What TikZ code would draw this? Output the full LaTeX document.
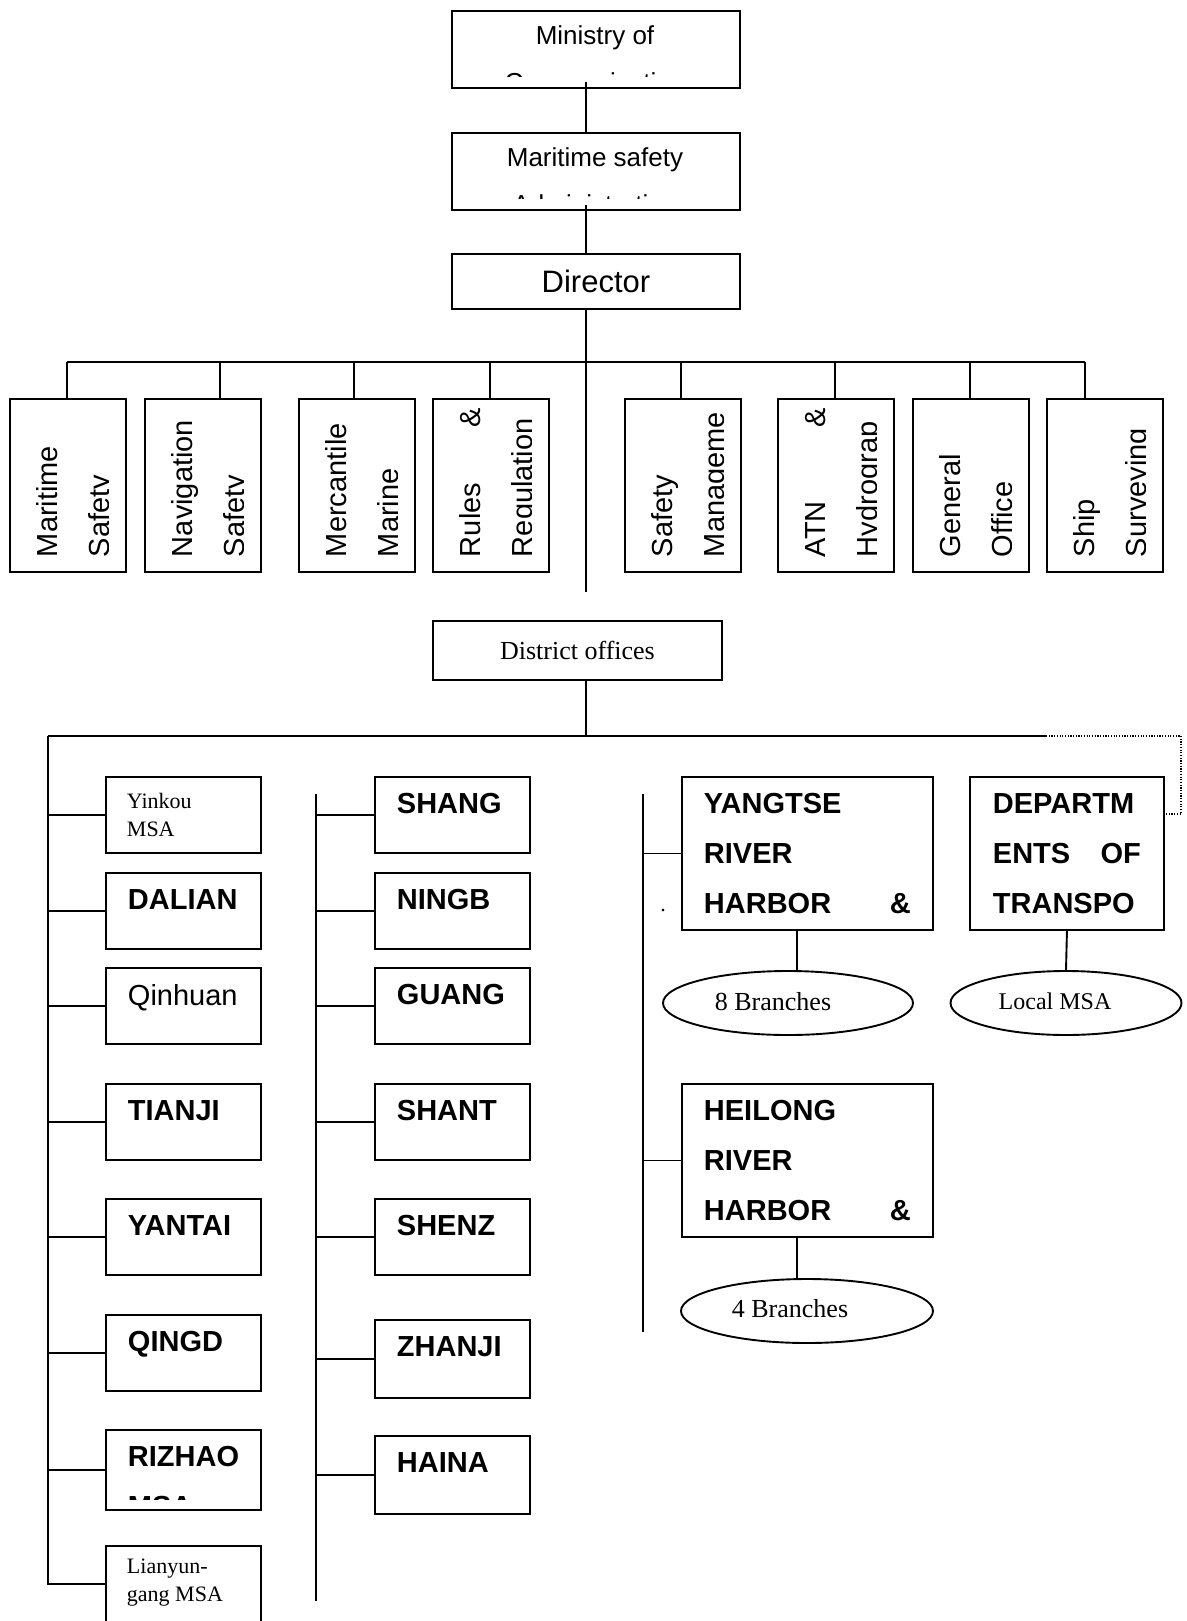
\documentclass[tikz,border=0pt]{standalone}
\usepackage{fontspec}
\setmainfont{Liberation Sans}
\newfontfamily\timesfont{Liberation Serif}
\usetikzlibrary{shapes.geometric}

\tikzset{
  orgbox/.style={draw, anchor=north west, inner sep=0pt},
  deptbox/.style={draw, anchor=north west, inner sep=0pt, minimum width=116pt, minimum height=173pt},
  deptlbl/.style={rotate=90, anchor=base west, inner sep=0pt, font=\fontsize{29}{35}\selectfont},
  msabox/.style={draw, anchor=north west, inner sep=0pt, minimum width=155pt, minimum height=76pt},
  msalbl/.style={anchor=base west, inner sep=0pt, font=\bfseries\fontsize{29}{50}\selectfont},
  seriflbl/.style={anchor=base west, inner sep=0pt, font=\timesfont\fontsize{22}{28}\selectfont},
  branch/.style={draw, ellipse, inner sep=0pt, minimum width=250pt, minimum height=64pt},
}

\begin{document}
\begin{tikzpicture}[x=1pt, y=-1pt, line width=1.9pt]
    \useasboundingbox (0,0) rectangle (1186,1621);

    %top boxes
    \node[orgbox, minimum width=288pt, minimum height=77pt] (ministry) at (451,10) {};
    \node[anchor=base, font=\fontsize{26}{30}\selectfont] (ministrytxt) at (595,45) {Ministry of};
    \begin{scope}
        \clip (451,10) rectangle (739,77);
        \node[anchor=base, font=\fontsize{26}{30}\selectfont] (ministrycut) at (595,92) {Communication};
    \end{scope}
    \node[orgbox, minimum width=288pt, minimum height=77pt] (maritime) at (451,132) {};
    \node[anchor=base, font=\fontsize{26}{30}\selectfont] (maritimetxt) at (595,167) {Maritime safety};
    \begin{scope}
        \clip (451,132) rectangle (739,199);
        \node[anchor=base, font=\fontsize{26}{30}\selectfont] (maritimecut) at (595,214) {Administration};
    \end{scope}
    \node[orgbox, minimum width=288pt, minimum height=55pt, font=\fontsize{31}{36}\selectfont] (director) at (451,253) {Director};

    %spine
    \coordinate (spine) at (586,0);
    \coordinate (spineend) at (586,592);
    \draw (spine |- ministry.south) ++(0,-7) -- (spine |- maritime.north);
    \draw (spine |- maritime.south) ++(0,-6) -- (spine |- director.north);
    \draw (spine |- director.south) -- (spineend);

    %departments
    \node[deptbox] (d1) at (9,398) {};
    \node[deptbox] (d2) at (144,398) {};
    \node[deptbox] (d3) at (298,398) {};
    \node[deptbox] (d4) at (432,398) {};
    \node[deptbox] (d5) at (624,398) {};
    \node[deptbox] (d6) at (777,398) {};
    \node[deptbox] (d7) at (912,398) {};
    \node[deptbox] (d8) at (1046,398) {};

    \begin{scope}
        \clip (9,398) rectangle (108.5,571);
        \node[deptlbl] (d1a) at (57,558) {Maritime};
        \node[deptlbl] (d1b) at (109,558) {Safety};
    \end{scope}
    \begin{scope}
        \clip (144,398) rectangle (243.5,571);
        \node[deptlbl] (d2a) at (192,558) {Navigation};
        \node[deptlbl] (d2b) at (244,558) {Safety};
    \end{scope}
    \begin{scope}
        \clip (298,398) rectangle (397.5,571);
        \node[deptlbl] (d3a) at (346,558) {Mercantile};
        \node[deptlbl] (d3b) at (398,558) {Marine};
    \end{scope}
    \begin{scope}
        \clip (432,398) rectangle (531.5,571);
        \node[deptlbl] (d4a) at (480,558) {\hbox to 149pt{Rules\hfill\&}};
        \node[deptlbl] (d4b) at (532,558) {Regulation};
    \end{scope}
    \begin{scope}
        \clip (624,398) rectangle (723.5,571);
        \node[deptlbl] (d5a) at (672,558) {Safety};
        \node[deptlbl] (d5b) at (724,558) {Manageme};
    \end{scope}
    \begin{scope}
        \clip (777,398) rectangle (876.5,571);
        \node[deptlbl] (d6a) at (825,558) {\hbox to 149pt{ATN\hfill\&}};
        \node[deptlbl] (d6b) at (877,558) {Hydrograp};
    \end{scope}
    \begin{scope}
        \clip (912,398) rectangle (1011.5,571);
        \node[deptlbl] (d7a) at (960,558) {General};
        \node[deptlbl] (d7b) at (1012,558) {Office};
    \end{scope}
    \begin{scope}
        \clip (1046,398) rectangle (1145.5,571);
        \node[deptlbl] (d8a) at (1094,558) {Ship};
        \node[deptlbl] (d8b) at (1146,558) {Surveying};
    \end{scope}

    %department bar
    \coordinate (t1) at (67,362);
    \coordinate (t2) at (220,362);
    \coordinate (t3) at (354,362);
    \coordinate (t4) at (490,362);
    \coordinate (t5) at (681,362);
    \coordinate (t6) at (835,362);
    \coordinate (t7) at (970,362);
    \coordinate (t8) at (1085,362);
    \draw (t1) -- (t8);
    \draw (t1) -- (t1 |- d1.north);
    \draw (t2) -- (t2 |- d2.north);
    \draw (t3) -- (t3 |- d3.north);
    \draw (t4) -- (t4 |- d4.north);
    \draw (t5) -- (t5 |- d5.north);
    \draw (t6) -- (t6 |- d6.north);
    \draw (t7) -- (t7 |- d7.north);
    \draw (t8) -- (t8 |- d8.north);

    %district offices
    \node[orgbox, minimum width=289pt, minimum height=59pt, font=\timesfont\fontsize{26}{30}\selectfont] (district) at (432,620) {District offices};
    \coordinate (dbar) at (586,736);
    \coordinate (dleft) at (48,736);
    \coordinate (dright) at (1046,736);
    \coordinate (dcorner) at (1181,814);
    \draw (spine |- district.south) -- (dbar);
    \draw (dleft) -- (dright);

    %left column
    \node[msabox] (yink) at (105,776) {};
    \node[seriflbl] (yinktxt) at (126,808) {\vtop{\hbox{Yinkou}\hbox{MSA}}};
    \node[msabox] (dalian) at (105,872) {};
    \node[msalbl] (daliantxt) at (127,909) {DALIAN};
    \node[msabox] (qinh) at (105,967) {};
    \node[msalbl, font=\fontsize{29}{35}\selectfont] (qinhtxt) at (127,1005) {Qinhuan};
    \node[msabox] (tianji) at (105,1083) {};
    \node[msalbl] (tianjitxt) at (127,1120) {TIANJI};
    \node[msabox] (yantai) at (105,1198) {};
    \node[msalbl] (yantaitxt) at (127,1235) {YANTAI};
    \node[msabox] (qingd) at (105,1314) {};
    \node[msalbl] (qingdtxt) at (127,1351) {QINGD};
    \node[msabox, minimum height=80pt] (rizhao) at (105,1429) {};
    \begin{scope}
        \clip (105,1429) rectangle (260,1499);
        \node[msalbl] (rizhaotxt) at (127,1466) {\vtop{\hbox{RIZHAO}\hbox{MSA}}};
    \end{scope}
    \node[msabox] (lian) at (105,1545) {};
    \node[seriflbl] (liantxt) at (126,1573) {\vtop{\hbox{Lianyun-}\hbox{gang MSA}}};

    \draw (dleft) |- (lian.west);
    \draw (dleft |- yink.west) -- (yink.west);
    \draw (dleft |- dalian.west) -- (dalian.west);
    \draw (dleft |- qinh.west) -- (qinh.west);
    \draw (dleft |- tianji.west) -- (tianji.west);
    \draw (dleft |- yantai.west) -- (yantai.west);
    \draw (dleft |- qingd.west) -- (qingd.west);
    \draw (dleft |- rizhao.west) -- (rizhao.west);

    %middle column
    \node[msabox] (shang) at (374,776) {};
    \node[msalbl] (shangtxt) at (396,813) {SHANG};
    \node[msabox] (ningb) at (374,872) {};
    \node[msalbl] (ningbtxt) at (396,909) {NINGB};
    \node[msabox] (guang) at (374,967) {};
    \node[msalbl] (guangtxt) at (396,1004) {GUANG};
    \node[msabox] (shant) at (374,1083) {};
    \node[msalbl] (shanttxt) at (396,1120) {SHANT};
    \node[msabox] (shenz) at (374,1198) {};
    \node[msalbl] (shenztxt) at (396,1235) {SHENZ};
    \node[msabox, minimum height=78pt] (zhanji) at (374,1319) {};
    \node[msalbl] (zhanjitxt) at (396,1356) {ZHANJI};
    \node[msabox, minimum height=78pt] (haina) at (374,1435) {};
    \node[msalbl] (hainatxt) at (396,1472) {HAINA};

    \coordinate (mtop) at (316,794);
    \coordinate (mbot) at (316,1601);
    \draw (mtop) -- (mbot);
    \draw (mtop |- shang.west) -- (shang.west);
    \draw (mtop |- ningb.west) -- (ningb.west);
    \draw (mtop |- guang.west) -- (guang.west);
    \draw (mtop |- shant.west) -- (shant.west);
    \draw (mtop |- shenz.west) -- (shenz.west);
    \draw (mtop |- zhanji.west) -- (zhanji.west);
    \draw (mtop |- haina.west) -- (haina.west);

    %right column
    \node[orgbox, minimum width=251pt, minimum height=153pt] (yangtse) at (681,776) {};
    \node[msalbl] (yangtsetxt) at (703,813) {\vtop{\hbox{YANGTSE}\hbox{RIVER}\hbox to 207pt{HARBOR\hfill\&}}};
    \node[orgbox, minimum width=194pt, minimum height=153pt] (depart) at (969,776) {};
    \node[msalbl] (departtxt) at (992,813) {\vtop{\hbox{DEPARTM}\hbox to 148pt{ENTS\hfill OF}\hbox{TRANSPO}}};
    \node[orgbox, minimum width=251pt, minimum height=153pt] (heilong) at (681,1083) {};
    \node[msalbl] (heilongtxt) at (703,1120) {\vtop{\hbox{HEILONG}\hbox{RIVER}\hbox to 207pt{HARBOR\hfill\&}}};
    \node[font=\timesfont\fontsize{22}{26}\selectfont, inner sep=0pt] (stray) at (663,911) {.};

    \node[branch] (br8) at (788,1003) {};
    \node[font=\timesfont\fontsize{26}{30}\selectfont] (br8txt) at (773,1002) {8 Branches};
    \node[branch, minimum width=231pt] (local) at (1066,1003) {};
    \node[font=\timesfont\fontsize{24}{28}\selectfont] (localtxt) at (1055,1001) {Local MSA};
    \node[branch, minimum width=252pt] (br4) at (807,1311) {};
    \node[font=\timesfont\fontsize{26}{30}\selectfont] (br4txt) at (790,1309) {4 Branches};

    \coordinate (rtop) at (643,794);
    \coordinate (rbot) at (643,1332);
    \coordinate (rdrop) at (797,0);
    \draw (rtop) -- (rbot);
    \draw (rtop |- yangtse.west) -- (yangtse.west);
    \draw (rtop |- heilong.west) -- (heilong.west);
    \draw (rdrop |- yangtse.south) -- (rdrop |- br8.north);
    \draw (rdrop |- heilong.south) -- (rdrop |- br4.north);
    \draw (depart.south) -- (local.north);

    %dotted link
    \draw[line width=1.2pt, dash pattern=on 1.2pt off 1.5pt] (dright) -| (dcorner) -- (dcorner -| depart.east);
\end{tikzpicture}
\end{document}
